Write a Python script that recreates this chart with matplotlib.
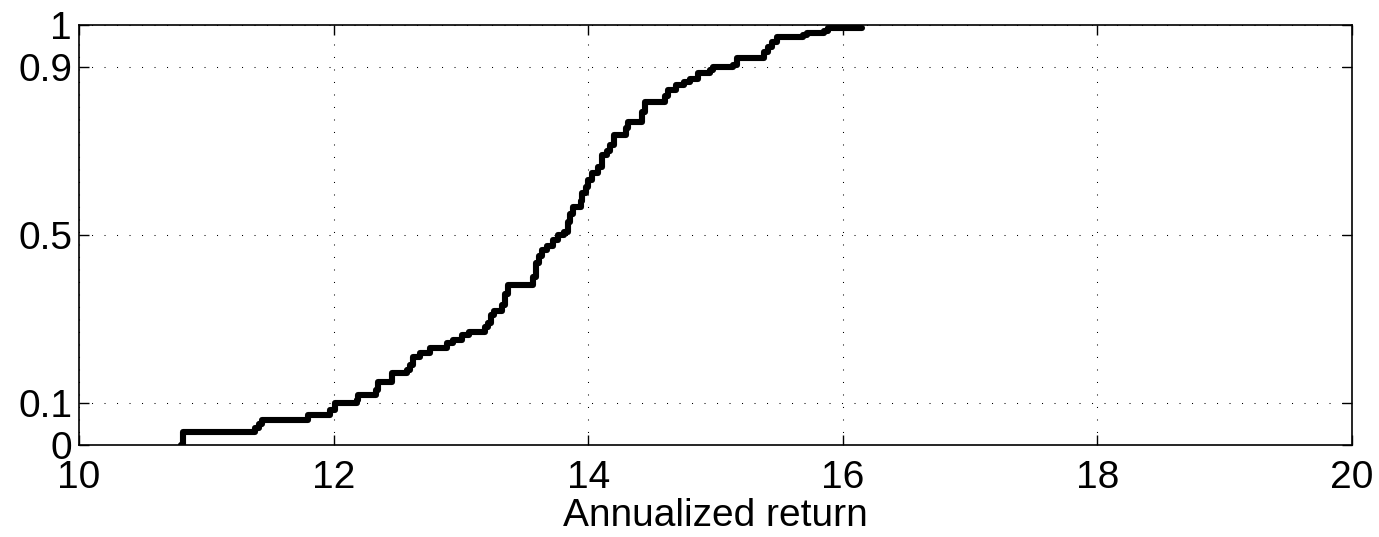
import matplotlib
matplotlib.use("Agg")
import matplotlib.pyplot as plt


returns = [10.80, 10.82, 11.38, 11.41, 11.44, 11.80, 11.97, 12.01, 12.18, 12.19,
           12.33, 12.35, 12.46, 12.58, 12.60, 12.62, 12.68, 12.76, 12.89, 12.94,
           13.01, 13.06, 13.19, 13.21, 13.24, 13.26, 13.32, 13.35, 13.37, 13.57,
           13.59, 13.61, 13.64, 13.68, 13.72, 13.76, 13.81, 13.84, 13.86, 13.88,
           13.94, 13.95, 13.98, 14.00, 14.03, 14.08, 14.11, 14.15, 14.17, 14.20,
           14.30, 14.31, 14.42, 14.45, 14.60, 14.63, 14.69, 14.75, 14.80, 14.86,
           14.96, 14.98, 15.14, 15.17, 15.38, 15.41, 15.44, 15.48, 15.69, 15.72,
           15.85, 15.88, 16.15]
cdf = [0.0, 0.03, 0.04, 0.05, 0.06, 0.071, 0.083, 0.10, 0.108, 0.119,
       0.13, 0.15, 0.171, 0.178, 0.19, 0.21, 0.219, 0.23, 0.243, 0.25,
       0.262, 0.27, 0.28, 0.29, 0.31, 0.32, 0.333, 0.36, 0.38, 0.40,
       0.433, 0.45, 0.464, 0.475, 0.488, 0.50, 0.508, 0.53, 0.55, 0.567,
       0.58, 0.60, 0.614, 0.63, 0.647, 0.662, 0.69, 0.70, 0.714, 0.738,
       0.755, 0.769, 0.793, 0.817, 0.83, 0.845, 0.857, 0.864, 0.872, 0.886,
       0.893, 0.90, 0.905, 0.921, 0.935, 0.948, 0.96, 0.971, 0.976, 0.98,
       0.985, 0.993, 0.993]

x_ticks = [10, 12, 14, 16, 18, 20]
y_ticks = [0, 0.1, 0.5, 0.9, 1]
y_tick_labels = ["0", "0.1", "0.5", "0.9", "1"]

plt.rcParams["font.family"] = ["Liberation Sans", "DejaVu Sans"]

fig = plt.figure(figsize=(13.79, 5.37), dpi=100)
ax = fig.add_axes([0.0573, 0.1713, 0.9231, 0.7821])

ax.plot(returns, cdf, drawstyle="steps-post", color="black", lw=4.4,
        solid_capstyle="round", solid_joinstyle="round")

ax.set_xlim(10, 20)
ax.set_ylim(0, 1)
ax.set_xticks(x_ticks)
ax.set_yticks(y_ticks)
ax.set_yticklabels(y_tick_labels)
ax.tick_params(direction="in", length=7, width=1, labelsize=28,
               top=True, right=True, pad=5)
ax.tick_params(axis="x", pad=11)
ax.grid(True, color="black", linestyle=(0, (1, 11)), linewidth=0.75)
for s in ax.spines.values():
    s.set_linewidth(1.2)

ax.set_xlabel("Annualized return", fontsize=28, labelpad=1)

fig.savefig("out.png", dpi=100)
